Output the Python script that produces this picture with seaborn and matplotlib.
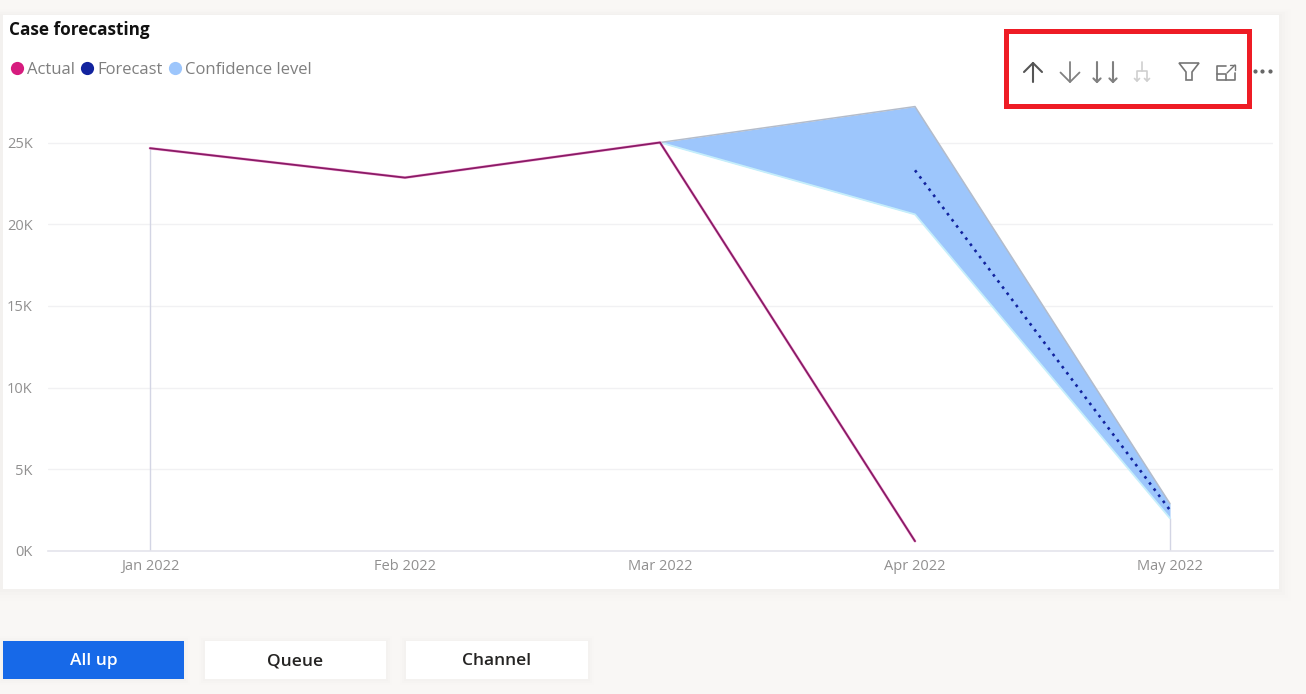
import matplotlib
matplotlib.use("Agg")
import matplotlib.pyplot as plt
from matplotlib.lines import Line2D
from matplotlib.patches import Rectangle, Polygon
from matplotlib.ticker import FuncFormatter
import pandas as pd
import seaborn as sns

months = ["Jan 2022", "Feb 2022", "Mar 2022", "Apr 2022", "May 2022"]
actual = [24650, 22850, 25000, 600]
forecast = [23300, 2500]
conf_upper = [25000, 27200, 2900]
conf_lower = [25000, 20600, 2000]
y_ticks = [0, 5000, 10000, 15000, 20000, 25000]
legend_labels = ["Actual", "Forecast", "Confidence level"]
button_labels = ["All up", "Queue", "Channel"]
title = "Case forecasting"

W, H = 1306, 694
sns.set_theme(style="white")
plt.rcParams["font.family"] = ["Open Sans", "DejaVu Sans"]
BG = "#F9F7F5"
fig = plt.figure(figsize=(W / 100, H / 100), dpi=100, facecolor=BG)

# Page furniture in pixel coordinates
bg = fig.add_axes([0, 0, 1, 1], zorder=0)
bg.set_xlim(0, W); bg.set_ylim(H, 0); bg.axis("off")
for g, a in ((12, .004), (9, .005), (6, .006), (3, .008)):
    bg.add_patch(Rectangle((3 - g, 15 - g / 2), 1276 + 2 * g, 574 + 1.5 * g, fc="black", ec="none", alpha=a))
bg.add_patch(Rectangle((3, 15), 1276, 574, fc="white", ec="none"))
for (x, w, fc, tc), lab in zip([(3, 181, "#1769E8", "white"), (205, 181, "white", "#252423"),
                                (406, 182, "white", "#252423")], button_labels):
    for g, a in ((6, .005), (4, .006), (2, .008)):
        bg.add_patch(Rectangle((x - g, 642 - g), w + 2 * g, 37 + 2 * g, fc="black", ec="none", alpha=a))
    bg.add_patch(Rectangle((x, 641), w, 38, fc=fc, ec="none"))
    bg.text(x + w / 2, 661, lab, color=tc, fontsize=12.5, fontweight="semibold", ha="center", va="center")

# Chart
ax = fig.add_axes([48 / W, 1 - 551 / H, (1273 - 48) / W, (551 - 90) / H], zorder=1)
ax.patch.set_alpha(0)
x = list(range(len(months)))
ax.fill_between(x[2:], conf_lower, conf_upper, color="#9DC6FC", lw=0, zorder=2)
ax.plot(x[2:], conf_lower, color="#C5EEFB", lw=1.3, zorder=2.1)
ax.plot(x[2:], conf_upper, color="#B3BCCB", lw=1.1, zorder=2.1)
ax.vlines([x[0], x[4]], 0, [actual[0], conf_lower[-1]], color="#D3D5E4", lw=1.0, zorder=1.5)
df_a = pd.DataFrame({"m": x[:4], "v": actual})
df_f = pd.DataFrame({"m": x[3:], "v": forecast})
sns.lineplot(data=df_a, x="m", y="v", color="#F3A9D8", lw=2.0, ax=ax, zorder=3)
sns.lineplot(data=df_a, x="m", y="v", color="#8A1B66", lw=1.3, ax=ax, zorder=3.1)
sns.lineplot(data=df_f, x="m", y="v", color="#12239E", lw=1.9, ax=ax, zorder=4, linestyle=(0, (1, 1.9)))
ax.set_xlim((48 - 150) / 255, (1273 - 150) / 255)
ax.set_ylim(0, (551 - 90) / 16.34 * 1000)
ax.set_xticks(x, months)
ax.set_yticks(y_ticks)
ax.yaxis.set_major_formatter(FuncFormatter(lambda v, _: f"{v / 1000:.0f}K"))
ax.set_xlabel(""); ax.set_ylabel("")
ax.grid(axis="y", color="#F1F1F3", lw=1)
ax.set_axisbelow(True)
for s in ("top", "right", "left"):
    ax.spines[s].set_visible(False)
ax.spines["bottom"].set_color("#E4E4EC")
ax.spines["bottom"].set_linewidth(1.2)
ax.tick_params(axis="both", length=0, labelcolor="#919090", labelsize=10.5)
ax.tick_params(axis="x", pad=6)
ax.tick_params(axis="y", pad=11)

handles = [Line2D([], [], ls="", marker="o", ms=9.5, mfc=c, mec="none") for c in ("#D61C7E", "#12239E", "#9DC6FC")]
leg = fig.legend(handles, legend_labels, loc="center left", bbox_to_anchor=(8.5 / W, 1 - 70 / H), ncol=3, frameon=False,
                 fontsize=12, labelcolor="#7F7F7F", handlelength=1.0, handletextpad=0.1, columnspacing=0.25,
                 borderpad=0, borderaxespad=0)
fig.text(9 / W, 1 - 30 / H, title, fontsize=12.3, fontweight="bold", color="#111111", va="center")

# Toolbar icons and highlight box
ov = fig.add_axes([0, 0, 1, 1], zorder=2)
ov.set_xlim(0, W); ov.set_ylim(H, 0); ov.axis("off"); ov.patch.set_alpha(0)
ov.add_patch(Rectangle((1006, 31), 243, 75, fc="none", ec="#EE1C25", lw=3.6))

def down(xc, c="#808080", lw=1.3, y0=62, y1=82, s=7):
    ov.plot([xc, xc], [y0, y1], color=c, lw=lw)
    ov.plot([xc - s, xc, xc + s], [y1 - s, y1, y1 - s], color=c, lw=lw)

ov.plot([1033, 1033], [63, 82], color="#555555", lw=1.5)
ov.plot([1024, 1033, 1042], [72, 63, 72], color="#555555", lw=1.5)
down(1070, s=9.5)
down(1097, s=3.6, lw=1.5); down(1113, s=3.6, lw=1.5)
lg = "#CFCFCF"
ov.plot([1142, 1142], [62, 71], color=lg, lw=1.2)
ov.plot([1137, 1137, 1147, 1147], [81, 71, 71, 81], color=lg, lw=1.2)
for xc in (1137, 1147):
    ov.plot([xc - 2.5, xc, xc + 2.5], [78.5, 81, 78.5], color=lg, lw=1.2)
ov.add_patch(Polygon([(1179, 63), (1199, 63), (1192, 72), (1192, 80), (1186, 80), (1186, 72)], fc="none", ec="#757575", lw=1.2))
ov.plot([1235, 1235, 1217, 1217, 1226], [73, 80, 80, 66, 66], color="#757575", lw=1.2)
ov.plot([1217, 1226, 1226], [74, 74, 80], color="#757575", lw=1.2)
ov.plot([1227, 1235], [73, 65], color="#757575", lw=1.0)
ov.plot([1230, 1235, 1235], [65, 65, 70], color="#757575", lw=1.0)
ov.plot([1255, 1262, 1270], [71, 71, 71], ls="", marker="o", ms=2.0, color="#666666")

fig.savefig("out.png", dpi=100, facecolor=BG)
